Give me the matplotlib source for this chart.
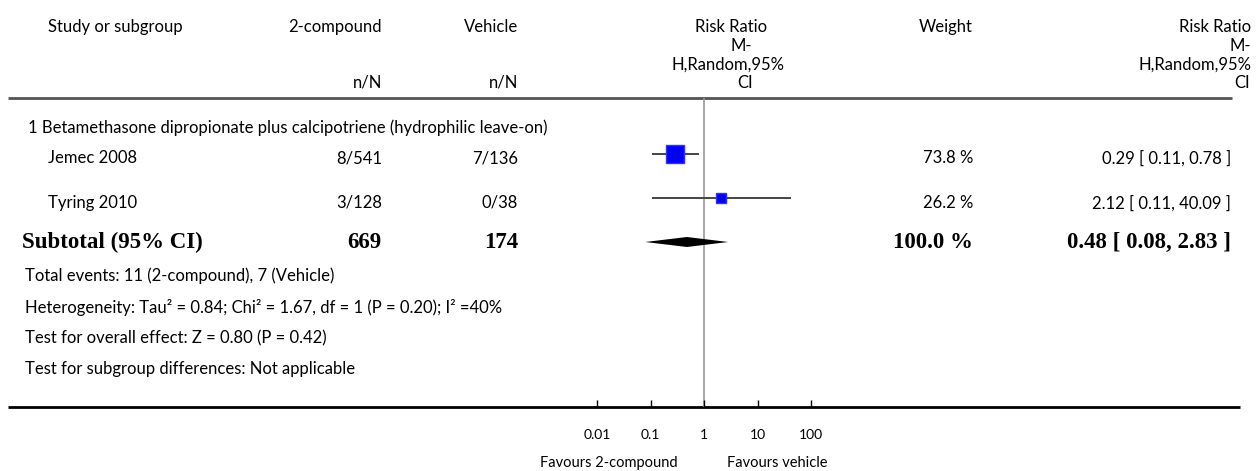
import matplotlib.pyplot as plt
import numpy as np

# --- data ---
studies = ["Jemec 2008", "Tyring 2010"]
events_trt = [8, 3]
n_trt = [541, 128]
events_ctl = [7, 0]
n_ctl = [136, 38]
weights = [73.8, 26.2]
rr = [0.29, 2.12]
ci_lo = [0.11, 0.11]
ci_hi = [0.78, 40.09]

sub_n_trt, sub_n_ctl = 669, 174
sub_weight = 100.0
sub_rr, sub_lo, sub_hi = 0.48, 0.08, 2.83

subgroup = "1 Betamethasone dipropionate plus calcipotriene (hydrophilic leave-on)"
stats = ["Total events: 11 (2-compound), 7 (Vehicle)",
         "Heterogeneity: Tau² = 0.84; Chi² = 1.67, df = 1 (P = 0.20); I² =40%",
         "Test for overall effect: Z = 0.80 (P = 0.42)",
         "Test for subgroup differences: Not applicable"]
ticks = [0.01, 0.1, 1, 10, 100]
tick_labels = ["0.01", "0.1", "1", "10", "100"]

W, H = 1259, 471
SANS = ["Lato", "DejaVu Sans"]
SERIF = "Liberation Serif"
fs = 12
fsb = 16.5

fig = plt.figure(figsize=(W / 100, H / 100), dpi=100)
ax = fig.add_axes([0, 0, 1, 1])
ax.set_xlim(0, W)
ax.set_ylim(H, 0)
ax.axis("off")

def t(x, y, s, ha="left", bold=False, size=None):
    if bold:
        ax.text(x, y, s, ha=ha, va="center", fontsize=size or fsb, family=SERIF, fontweight="bold")
    else:
        ax.text(x, y, s, ha=ha, va="center", fontsize=size or fs, family=SANS)

# header
t(48, 27, "Study or subgroup")
t(382, 27, "2-compound", ha="right")
t(382, 83, "n/N", ha="right")
t(518, 27, "Vehicle", ha="right")
t(518, 83, "n/N", ha="right")
for s, x, y in [("Risk Ratio", 731, 27), ("M-", 741, 46), ("H,Random,95%", 728, 65), ("CI", 745, 83)]:
    t(x, y, s, ha="center")
t(946, 27, "Weight", ha="center")
for s, x, y in [("Risk Ratio", 1251, 27), ("M-", 1251, 46), ("H,Random,95%", 1252, 65), ("CI", 1250, 83)]:
    t(x, y, s, ha="right")
ax.plot([8, 1232], [98, 98], color="#555555", lw=2, solid_capstyle="butt")
ax.plot([8, 1240], [407, 407], color="black", lw=2, solid_capstyle="butt")

# forest axes: log-x, y in pixel rows
x0 = 704 - 2.5 * 53.5
fx = fig.add_axes([x0 / W, (H - 407) / H, 5 * 53.5 / W, (407 - 98) / H])
fx.set_xscale("log")
fx.set_xlim(10 ** -2.5, 10 ** 2.5)
fx.set_ylim(407, 98)
fx.patch.set_alpha(0)
for sp in fx.spines.values():
    sp.set_visible(False)
fx.set_yticks([])
fx.set_xticks(ticks)
fx.set_xticklabels(tick_labels, family=SANS, fontsize=10)
fx.xaxis.set_minor_locator(plt.NullLocator())
fx.tick_params(axis="x", direction="in", length=5, width=1, pad=16)
fx.axvline(1, color="#999999", lw=1.2, zorder=1)

t(28, 128, subgroup)
mark_y = [154, 198]
text_y = [158, 203]
for i, name in enumerate(studies):
    y, ty = mark_y[i], text_y[i]
    t(48, ty, name)
    t(382, ty, f"{events_trt[i]}/{n_trt[i]}", ha="right")
    t(518, ty, f"{events_ctl[i]}/{n_ctl[i]}", ha="right")
    t(973, ty, f"{weights[i]:.1f} %", ha="right")
    t(1231, ty, f"{rr[i]:.2f} [ {ci_lo[i]:.2f}, {ci_hi[i]:.2f} ]", ha="right")
    fx.plot([ci_lo[i], ci_hi[i]], [y, y], color="#444444", lw=1.4, zorder=2)
    fx.plot(rr[i], y, marker="s", color="#0000ff", markeredgecolor="#3030ff",
            markersize=1.5 * np.sqrt(weights[i]), zorder=3)
    fx.plot(rr[i], y, marker="|", color="#222222", markersize=6, mew=1, zorder=4)

ys = 242
t(22, ys, "Subtotal (95% CI)", bold=True)
t(382, ys, f"{sub_n_trt}", ha="right", bold=True)
t(518, ys, f"{sub_n_ctl}", ha="right", bold=True)
t(973, ys, f"{sub_weight:.1f} %", ha="right", bold=True)
t(1231, ys, f"{sub_rr:.2f} [ {sub_lo:.2f}, {sub_hi:.2f} ]", ha="right", bold=True)
fx.fill([sub_lo, sub_rr, sub_hi, sub_rr], [ys, ys - 5, ys, ys + 5], color="black", lw=0, zorder=3)

for i, s in enumerate(stats):
    t(25, 276 + 31 * i, s)

t(609, 463, "Favours 2-compound", ha="center", size=10.5)
t(777, 463, "Favours vehicle", ha="center", size=10.5)

fig.savefig("out.png", dpi=100)
